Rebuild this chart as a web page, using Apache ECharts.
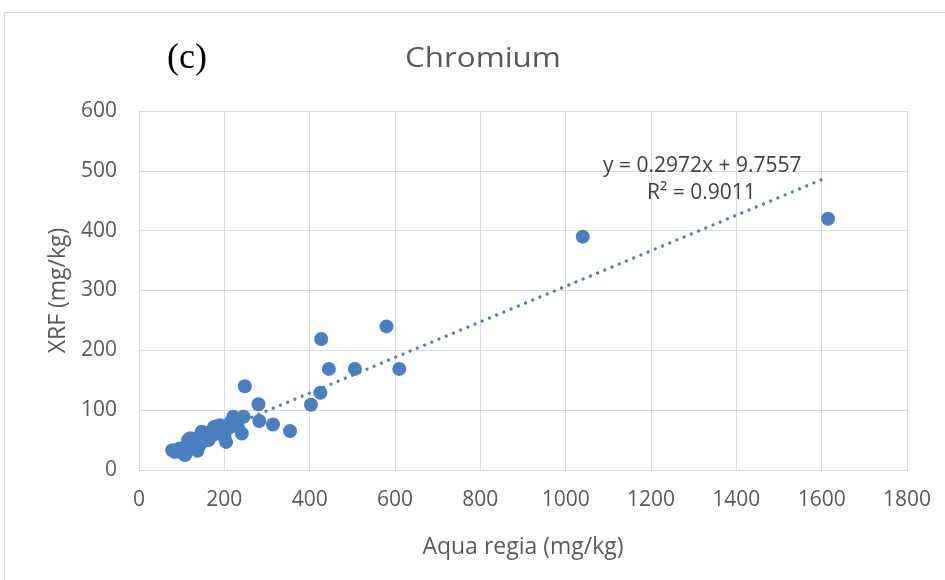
<!DOCTYPE html>
<html><head><meta charset="utf-8">
<script src="https://cdn.jsdelivr.net/npm/echarts@6/dist/echarts.min.js"></script>
<style>html,body{margin:0;padding:0;background:#fff}#c{width:945px;height:580px}</style>
</head><body><div id="c"></div>
<script>
var aquaRegia = [78,84,95,104,108,112,115,120,124,128,135,137,140,143,147,150,155,160,163,170,172,176,182,186,190,196,200,204,210,215,221,226,232,241,245,248,280,282,314,354,403,425,427,445,506,580,610,1040,1615];
var xrf       = [33,30,36,27,25,40,50,53,38,45,36,32,55,42,64,48,52,60,50,65,58,72,73,62,75,68,55,47,70,80,89,78,72,61,89,140,110,82,76,65,109,129,219,169,169,240,169,390,420];
var slope = 0.2972, intercept = 9.7557;
var eqText = 'y = 0.2972x + 9.7557', r2Text = 'R² = 0.9011';
var xTicks = [0,200,400,600,800,1000,1200,1400,1600,1800];
var yTicks = [0,100,200,300,400,500,600];

var pts = aquaRegia.map(function(v,i){return [v, xrf[i]];});
var xmin = Math.min.apply(null, aquaRegia), xmax = Math.max.apply(null, aquaRegia);
var trend = [[xmin, slope*xmin+intercept],[xmax, slope*xmax+intercept]];
var F = '"Open Sans", sans-serif';
var chart = echarts.init(document.getElementById('c'));
chart.setOption({
  animation:false,
  graphic:[
    {type:'rect', z:0, shape:{x:4.5,y:12.5,width:960,height:600}, style:{fill:'none',stroke:'#d9d9d9',lineWidth:1}},
    {type:'text', z:100, left:167, top:41, style:{text:'(c)', font:'36px "Liberation Serif", "Times New Roman", serif', fill:'#000'}},
    {type:'text', z:100, x:405, y:45, scaleX:1.12, style:{text:'Chromium', font:'28px ' + F, fill:'#595959'}},
    {type:'text', z:100, left:603, top:156, style:{text:eqText, font:'21px ' + F, fill:'#404040'}},
    {type:'text', z:100, left:647, top:183, style:{text:r2Text, font:'21px ' + F, fill:'#404040'}}
  ],
  grid:{left:139, right:38, top:111, bottom:110},
  xAxis:{type:'value', min:0, max:1800, interval:200,
    axisLine:{show:true, lineStyle:{color:'#d9d9d9'}}, axisTick:{show:false},
    axisLabel:{color:'#595959', fontSize:21, fontFamily:F, margin:20, formatter:function(v){return String(v);}},
    splitLine:{show:true, lineStyle:{color:'#d9d9d9'}},
    name:'Aqua regia (mg/kg)', nameLocation:'middle', nameGap:66,
    nameTextStyle:{color:'#595959', fontSize:23, fontFamily:F}},
  yAxis:{type:'value', min:0, max:600, interval:100,
    axisLine:{show:true, lineStyle:{color:'#d9d9d9'}}, axisTick:{show:false},
    axisLabel:{color:'#595959', fontSize:21, fontFamily:F, margin:22, formatter:function(v){return String(v);}},
    splitLine:{show:true, lineStyle:{color:'#d9d9d9'}},
    name:'XRF (mg/kg)', nameLocation:'middle', nameGap:64, nameRotate:90,
    nameTextStyle:{color:'#595959', fontSize:23, fontFamily:F}},
  series:[
    {type:'line', data:trend, symbol:'none', z:1,
     lineStyle:{color:'#4a7ebf', width:3.3, type:[0.01,7.8], cap:'round'}},
    {type:'scatter', data:pts, symbolSize:14, z:2,
     itemStyle:{color:'#4a7ebf', opacity:1}}
  ]
});
</script></body></html>
